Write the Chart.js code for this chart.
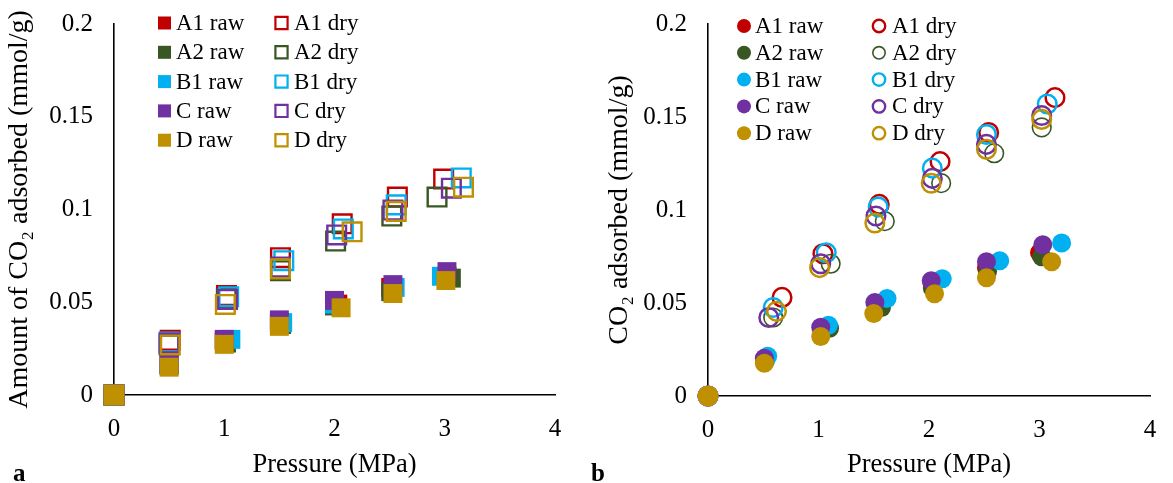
<!DOCTYPE html>
<html>
<head>
<meta charset="utf-8">
<script src="https://cdn.jsdelivr.net/npm/chart.js@4/dist/chart.umd.min.js"></script>
<style>
  html, body { margin: 0; padding: 0; background: #ffffff; }
  #wrap { position: relative; width: 1173px; height: 483px; overflow: hidden; }
  canvas { position: absolute; top: 0; }
  #ca { left: 0; }
  #cb { left: 586px; }
</style>
</head>
<body>
<div id="wrap">
  <canvas id="ca" width="586" height="483"></canvas>
  <canvas id="cb" width="587" height="483"></canvas>
</div>
<script>
// ---- axis ticks ----
const pressureTicks = [0, 1, 2, 3, 4];
const uptakeTicks = [0, 0.05, 0.1, 0.15, 0.2];

// ---- series names (legend order) ----
const seriesLabels = ['A1 raw', 'A1 dry', 'A2 raw', 'A2 dry', 'B1 raw', 'B1 dry', 'C raw', 'C dry', 'D raw', 'D dry'];

// ---- panel a: pressure (MPa) / amount of CO2 adsorbed (mmol/g) ----
const aP_A1raw = [0, 0.50, 1.00, 1.50, 2.03, 2.51, 3.02];
const aQ_A1raw = [0, 0.017, 0.029, 0.039, 0.049, 0.058, 0.064];
const aP_A1dry = [0, 0.51, 1.02, 1.51, 2.07, 2.57, 2.99];
const aQ_A1dry = [0, 0.0295, 0.0536, 0.074, 0.0923, 0.1067, 0.1164];
const aP_A2raw = [0, 0.50, 1.02, 1.52, 2.00, 2.51, 3.06];
const aQ_A2raw = [0, 0.016, 0.028, 0.038, 0.048, 0.0557, 0.063];
const aP_A2dry = [0, 0.50, 1.02, 1.51, 2.01, 2.52, 2.93];
const aQ_A2dry = [0, 0.027, 0.052, 0.067, 0.083, 0.0965, 0.1067];
const aP_B1raw = [0, 0.50, 1.06, 1.53, 2.00, 2.55, 2.97];
const aQ_B1raw = [0, 0.016, 0.030, 0.039, 0.049, 0.058, 0.064];
const aP_B1dry = [0, 0.50, 1.04, 1.54, 2.08, 2.56, 3.15];
const aQ_B1dry = [0, 0.0285, 0.053, 0.0724, 0.0895, 0.1025, 0.117];
const aP_Craw  = [0, 0.50, 1.00, 1.50, 2.00, 2.53, 3.02];
const aQ_Craw  = [0, 0.0165, 0.030, 0.0405, 0.051, 0.0595, 0.0665];
const aP_Cdry  = [0, 0.50, 1.03, 1.51, 2.02, 2.53, 3.06];
const aQ_Cdry  = [0, 0.028, 0.0515, 0.069, 0.0863, 0.0997, 0.1115];
const aP_Draw  = [0, 0.50, 1.00, 1.50, 2.06, 2.53, 3.01];
const aQ_Draw  = [0, 0.015, 0.0273, 0.037, 0.047, 0.0547, 0.0617];
const aP_Ddry  = [0, 0.51, 1.01, 1.51, 2.16, 2.56, 3.17];
const aQ_Ddry  = [0, 0.027, 0.0488, 0.068, 0.088, 0.099, 0.112];

// ---- panel b: pressure (MPa) / CO2 adsorbed (mmol/g) ----
const bP_A1raw = [0, 0.52, 1.06, 1.56, 2.03, 2.52, 3.00];
const bQ_A1raw = [0, 0.020, 0.037, 0.049, 0.060, 0.069, 0.077];
const bP_A1dry = [0, 0.67, 1.04, 1.55, 2.10, 2.54, 3.14];
const bQ_A1dry = [0, 0.053, 0.0765, 0.103, 0.126, 0.1417, 0.1604];
const bP_A2raw = [0, 0.52, 1.10, 1.57, 2.03, 2.53, 3.02];
const bQ_A2raw = [0, 0.019, 0.0364, 0.0476, 0.058, 0.067, 0.0749];
const bP_A2dry = [0, 0.59, 1.11, 1.60, 2.11, 2.59, 3.02];
const bQ_A2dry = [0, 0.0422, 0.0711, 0.094, 0.1144, 0.1305, 0.1444];
const bP_B1raw = [0, 0.54, 1.09, 1.62, 2.12, 2.64, 3.20];
const bQ_B1raw = [0, 0.0214, 0.038, 0.0524, 0.063, 0.0727, 0.0823];
const bP_B1dry = [0, 0.59, 1.07, 1.54, 2.03, 2.52, 3.07];
const bQ_B1dry = [0, 0.0476, 0.077, 0.1016, 0.1225, 0.1406, 0.157];
const bP_Craw  = [0, 0.51, 1.02, 1.51, 2.02, 2.52, 3.03];
const bQ_Craw  = [0, 0.0203, 0.037, 0.0503, 0.062, 0.0722, 0.0813];
const bP_Cdry  = [0, 0.55, 1.02, 1.52, 2.03, 2.52, 3.02];
const bQ_Cdry  = [0, 0.0422, 0.0711, 0.0968, 0.117, 0.1353, 0.1508];
const bP_Draw  = [0, 0.51, 1.02, 1.50, 2.05, 2.52, 3.11];
const bQ_Draw  = [0, 0.0176, 0.032, 0.0444, 0.055, 0.0636, 0.0722];
const bP_Ddry  = [0, 0.62, 1.01, 1.51, 2.02, 2.52, 3.02];
const bQ_Ddry  = [0, 0.0455, 0.069, 0.093, 0.1144, 0.1326, 0.1487];

// ---- styling ----
const SERIF = "'Liberation Serif', 'Times New Roman', serif";
const seriesColors = ['#C00000', '#C00000', '#385723', '#385723', '#00B0F0', '#00B0F0', '#7030A0', '#7030A0', '#BF9000', '#BF9000'];

function toPoints(px, qy) {
  return px.map((p, i) => ({ x: p, y: qy[i] }));
}

const panelAData = [
  [aP_A1raw, aQ_A1raw], [aP_A1dry, aQ_A1dry], [aP_A2raw, aQ_A2raw], [aP_A2dry, aQ_A2dry],
  [aP_B1raw, aQ_B1raw], [aP_B1dry, aQ_B1dry], [aP_Craw, aQ_Craw], [aP_Cdry, aQ_Cdry],
  [aP_Draw, aQ_Draw], [aP_Ddry, aQ_Ddry]
];
const panelBData = [
  [bP_A1raw, bQ_A1raw], [bP_A1dry, bQ_A1dry], [bP_A2raw, bQ_A2raw], [bP_A2dry, bQ_A2dry],
  [bP_B1raw, bQ_B1raw], [bP_B1dry, bQ_B1dry], [bP_Craw, bQ_Craw], [bP_Cdry, bQ_Cdry],
  [bP_Draw, bQ_Draw], [bP_Ddry, bQ_Ddry]
];

function makeDatasets(seriesData, style) {
  return seriesData.map((pair, i) => {
    const color = seriesColors[i];
    const dry = i % 2 === 1;
    const bw = dry ? (style.thinIndex === i ? style.thinWidth : style.hollowWidth) : 0;
    return {
      label: seriesLabels[i],
      data: toPoints(pair[0], pair[1]),
      showLine: false,
      clip: false,
      order: seriesData.length - i,
      pointStyle: style.pointStyle,
      pointRadius: dry ? style.hollowRadius : style.solidRadius,
      pointHoverRadius: dry ? style.hollowRadius : style.solidRadius,
      pointBorderWidth: bw,
      pointHoverBorderWidth: bw,
      backgroundColor: dry ? 'rgba(0,0,0,0)' : color,
      borderColor: color,
      legendRadius: dry ? style.legendHollowRadius : style.legendSolidRadius,
      legendBorderWidth: dry ? (style.thinIndex === i ? style.thinWidth : style.legendHollowWidth) : 0
    };
  });
}

// Two-column legend drawn inside the plot, plus the panel letter.
const gridLegend = {
  id: 'gridLegend',
  afterDraw(chart, args, opts) {
    const ctx = chart.ctx;
    ctx.save();
    ctx.font = opts.fontSize + 'px ' + SERIF;
    ctx.textBaseline = 'middle';
    ctx.textAlign = 'left';
    chart.data.datasets.forEach((ds, i) => {
      const col = i % 2;
      const row = Math.floor(i / 2);
      const mx = opts.markerX[col];
      const my = opts.rowY0 + row * opts.rowStep;
      ctx.fillStyle = ds.backgroundColor;
      ctx.strokeStyle = ds.borderColor;
      ctx.lineWidth = ds.legendBorderWidth;
      Chart.helpers.drawPoint(ctx, {
        pointStyle: ds.pointStyle,
        radius: ds.legendRadius,
        borderWidth: ds.legendBorderWidth,
        rotation: 0
      }, mx, my);
      ctx.fillStyle = '#000000';
      ctx.fillText(ds.label, opts.textX[col], my + 1);
    });
    // panel letter
    ctx.font = 'bold ' + opts.letterSize + 'px ' + SERIF;
    ctx.textBaseline = 'alphabetic';
    ctx.fillStyle = '#000000';
    ctx.fillText(opts.letter, opts.letterX, opts.letterY);
    ctx.restore();
  }
};

function tickText(v) {
  return String(+Number(v).toFixed(2));
}

function buildPanel(canvasId, datasets, geo) {
  return new Chart(document.getElementById(canvasId), {
    type: 'scatter',
    data: { datasets },
    plugins: [gridLegend],
    options: {
      responsive: false,
      animation: false,
      events: [],
      layout: { padding: { top: geo.top, right: geo.right, bottom: 0, left: 0 } },
      plugins: {
        legend: { display: false },
        tooltip: { enabled: false },
        gridLegend: geo.legend
      },
      scales: {
        x: {
          type: 'linear',
          min: pressureTicks[0],
          max: pressureTicks[pressureTicks.length - 1],
          afterFit(s) {
            s.height = geo.xHeight;
            s.paddingLeft = 0;
            s.paddingRight = 0;
          },
          ticks: {
            stepSize: pressureTicks[1] - pressureTicks[0],
            color: '#000000',
            font: { family: SERIF, size: 25 },
            padding: 19,
            callback: tickText
          },
          grid: { display: false, drawTicks: false },
          border: { display: true, color: '#000000', width: 1.6 },
          title: {
            display: true,
            text: 'Pressure (MPa)',
            color: '#000000',
            font: { family: SERIF, size: 26.5 },
            padding: { top: 0, bottom: 2 }
          }
        },
        y: {
          type: 'linear',
          min: uptakeTicks[0],
          max: uptakeTicks[uptakeTicks.length - 1],
          afterFit(s) {
            s.width = geo.yWidth;
            s.paddingTop = 0;
            s.paddingBottom = 0;
          },
          ticks: {
            stepSize: uptakeTicks[1] - uptakeTicks[0],
            color: '#000000',
            font: { family: SERIF, size: 25 },
            padding: 21,
            callback: tickText
          },
          grid: { display: false, drawTicks: false },
          border: { display: true, color: '#000000', width: 1.6 },
          title: {
            display: true,
            text: geo.yTitle,
            color: '#000000',
            font: { family: SERIF, size: 28 },
            padding: { top: geo.yTitlePad, bottom: 0 }
          }
        }
      }
    }
  });
}

const squareStyle = {
  pointStyle: 'rect', solidRadius: 13.4, hollowRadius: 13.2, hollowWidth: 2.4,
  legendSolidRadius: 9.2, legendHollowRadius: 8.6, legendHollowWidth: 2.2,
  thinIndex: -1, thinWidth: 2.4
};
const circleStyle = {
  pointStyle: 'circle', solidRadius: 9.5, hollowRadius: 9.3, hollowWidth: 2.5,
  legendSolidRadius: 7, legendHollowRadius: 6.2, legendHollowWidth: 2.4,
  thinIndex: 3, thinWidth: 1.6
};

buildPanel('ca', makeDatasets(panelAData, squareStyle), {
  top: 24, right: 31, xHeight: 88, yWidth: 114, yTitlePad: 3,
  yTitle: 'Amount of CO\u2082 adsorbed (mmol/g)',
  legend: {
    fontSize: 23, markerX: [164.5, 281.5], textX: [176, 294], rowY0: 23, rowStep: 29.3,
    letter: 'a', letterX: 13, letterY: 481, letterSize: 25
  }
});

buildPanel('cb', makeDatasets(panelBData, circleStyle), {
  top: 24, right: 23, xHeight: 87, yWidth: 122, yTitlePad: 17,
  yTitle: 'CO\u2082 adsorbed (mmol/g)',
  legend: {
    fontSize: 23, markerX: [158, 293], textX: [169, 306], rowY0: 26, rowStep: 26.8,
    letter: 'b', letterX: 5, letterY: 481, letterSize: 25
  }
});
</script>
</body>
</html>
